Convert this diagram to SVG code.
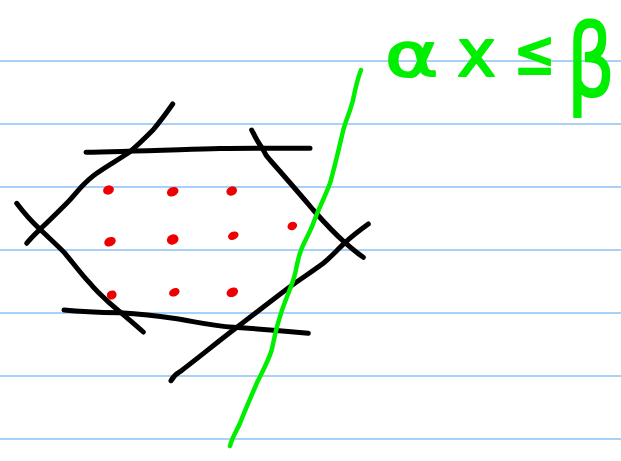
<svg xmlns="http://www.w3.org/2000/svg" width="621" height="461" viewBox="0 0 621 461">
<style>
.rule{stroke:#a9d1f7;stroke-width:2}
.ink{fill:none;stroke:#000;stroke-width:5;stroke-linecap:round;stroke-linejoin:round}
.green{fill:none;stroke:#00ee00;stroke-width:4.5;stroke-linecap:round;stroke-linejoin:round}
.dot{fill:#ee0000}
.eq{font-family:"DejaVu Sans",sans-serif;fill:#00ee00;stroke:#00ee00;stroke-width:2;stroke-linejoin:round}
</style>
<rect width="621" height="461" fill="#fff"/>
<g id="rules">
<line class="rule" x1="0" y1="61" x2="621" y2="61"/>
<line class="rule" x1="0" y1="124" x2="621" y2="124"/>
<line class="rule" x1="0" y1="187" x2="621" y2="187"/>
<line class="rule" x1="0" y1="250" x2="621" y2="250"/>
<line class="rule" x1="0" y1="313" x2="621" y2="313"/>
<line class="rule" x1="0" y1="376" x2="621" y2="376"/>
<line class="rule" x1="0" y1="439" x2="621" y2="439"/>
</g>
<g id="polygon">
<path class="ink" d="M86,152.3 C120,151.8 170,150 220,148.5 C260,148 290,148.3 310,148.3"/>
<path class="ink" d="M172.7,104 C165,115 158,124 153,130 C145,138 138,145 130,151.7 C118,160 105,167 96.7,173.3 C90,178 85,183 80,188.3 C75,194 71,199 66.7,203.3 C58,212 48,222 40,229.3 C35,234 30,239 26.7,243.3"/>
<path class="ink" d="M16.7,203.3 C24,213 32,222 40,229.3 C48,237 57,245 65,253.3 C73,263 82,275 90,283.3 C96,291 103,297 110,303.3 C120,312 132,322 143.3,332"/>
<path class="ink" d="M64,310 C82,312 100,312.5 120,312.7 C140,314 158,316 173.3,318.3 C192,321 212,326 233.3,327.3 C260,329 285,331 308.3,333.3"/>
<path class="ink" d="M171,380.7 C173,377 176,374 180,371.7 C198,358 215,344 233.3,330 C252,316 272,300 290,286.7 C302,278 313,271 323.3,263.3 C331,257 338,249 345,242.7 C352,236 360,230 368.3,224"/>
<path class="ink" d="M251.7,130 C255,137 259,144 263.3,150 C265,154 267,157 270,160 C285,177 299,193 313.3,210 C323,221 334,233 345,242.7 C351,248 357,253 363.3,257.3"/>
</g>
<g id="hyperplane">
<path class="green" d="M361,70 C357,80 355,90 353,100 C350,112 346,120 343.3,130 C339,148 335,166 330,183.3 C325,197 318,210 313.3,223.3 C309,235 303,243 300,253.3 C297,262 296,272 293.3,280 C289,293 283,305 280,316.7 C276,328 274,340 271.7,350 C268,362 262,372 256.7,383.3 C251,397 245,410 240,423.3 C236,432 232,438 230,446"/>
</g>
<g id="points">
<ellipse class="dot" cx="108.5" cy="190" rx="5.5" ry="4.5" transform="rotate(-20 108.5 190)"/>
<ellipse class="dot" cx="172.7" cy="191.7" rx="6" ry="4.5" transform="rotate(-25 172.7 191.7)"/>
<ellipse class="dot" cx="231.7" cy="191" rx="5.5" ry="4.5" transform="rotate(-25 231.7 191)"/>
<ellipse class="dot" cx="110" cy="241.7" rx="6" ry="4.5" transform="rotate(-25 110 241.7)"/>
<ellipse class="dot" cx="172.7" cy="239.5" rx="6" ry="5" transform="rotate(-25 172.7 239.5)"/>
<ellipse class="dot" cx="233.3" cy="235.7" rx="5.5" ry="4" transform="rotate(-25 233.3 235.7)"/>
<ellipse class="dot" cx="292.3" cy="226" rx="5" ry="4" transform="rotate(-25 292.3 226)"/>
<ellipse class="dot" cx="111.7" cy="295" rx="5" ry="4.5" transform="rotate(-25 111.7 295)"/>
<ellipse class="dot" cx="174.3" cy="292.3" rx="5.5" ry="4" transform="rotate(-25 174.3 292.3)"/>
<ellipse class="dot" cx="232.3" cy="292.3" rx="6" ry="4.5" transform="rotate(-25 232.3 292.3)"/>
</g>
<g id="label">
<text class="eq" font-size="60" transform="translate(385,76) scale(1.35,1)">α</text>
<text class="eq" font-size="66" x="457" y="76">x</text>
<text class="eq" font-size="62" transform="translate(514,74) scale(0.8,1)">≤</text>
<text class="eq" font-size="100" transform="translate(567,96) scale(0.75,1)">β</text>
</g>
</svg>
